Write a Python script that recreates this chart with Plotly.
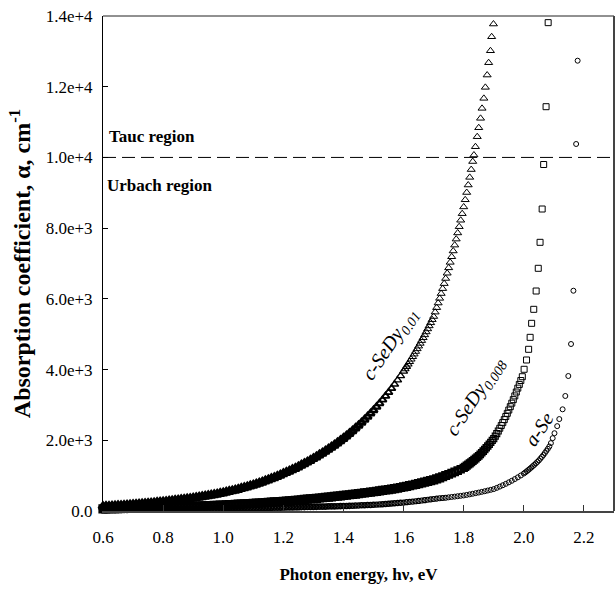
import plotly.graph_objects as go

# ---------------- data ----------------
# c-SeDy0.01 (triangles)
energy_dy01 = [
    0.60, 0.61, 0.62, 0.63, 0.64, 0.65, 0.66, 0.67, 0.68, 0.69,
    0.70, 0.71, 0.72, 0.73, 0.74, 0.75, 0.76, 0.77, 0.78, 0.79,
    0.80, 0.81, 0.82, 0.83, 0.84, 0.85, 0.86, 0.87, 0.88, 0.89,
    0.90, 0.91, 0.92, 0.93, 0.94, 0.95, 0.96, 0.97, 0.98, 0.99,
    1.00, 1.01, 1.02, 1.03, 1.04, 1.05, 1.06, 1.07, 1.08, 1.09,
    1.10, 1.11, 1.12, 1.13, 1.14, 1.15, 1.16, 1.17, 1.18, 1.19,
    1.20, 1.21, 1.22, 1.23, 1.24, 1.25, 1.26, 1.27, 1.28, 1.29,
    1.30, 1.31, 1.32, 1.33, 1.34, 1.35, 1.36, 1.37, 1.38, 1.39,
    1.40, 1.41, 1.42, 1.43, 1.44, 1.45, 1.46, 1.47, 1.48, 1.49,
    1.50, 1.51, 1.52, 1.53, 1.54, 1.55, 1.56, 1.57, 1.58, 1.59,
    1.60, 1.605, 1.610, 1.615, 1.620, 1.625, 1.630, 1.635, 1.640, 1.645,
    1.650, 1.655, 1.660, 1.665, 1.670, 1.675, 1.680, 1.685, 1.690, 1.695,
    1.700, 1.705, 1.710, 1.715, 1.720, 1.725, 1.730, 1.735, 1.740, 1.745,
    1.750, 1.755, 1.760, 1.765, 1.770, 1.775, 1.780, 1.785, 1.790, 1.795,
    1.800, 1.805, 1.810, 1.815, 1.820, 1.825, 1.830,
    1.834, 1.839, 1.845, 1.850, 1.856, 1.861, 1.867, 1.872, 1.878, 1.883,
    1.889, 1.893, 1.899,
]
alpha_dy01 = [
    120, 125, 129, 134, 139, 145, 150, 156, 162, 168,
    175, 182, 189, 196, 203, 211, 219, 228, 236, 245,
    255, 264, 273, 283, 293, 303, 314, 325, 336, 348,
    360, 373, 386, 399, 413, 428, 443, 459, 475, 492,
    510, 529, 548, 568, 588, 610, 632, 655, 679, 704,
    730, 757, 785, 814, 844, 875, 908, 941, 976, 1012,
    1050, 1087, 1125, 1164, 1204, 1246, 1290, 1335, 1381, 1430,
    1480, 1529, 1580, 1632, 1686, 1742, 1800, 1859, 1921, 1984,
    2050, 2119, 2190, 2263, 2339, 2417, 2498, 2582, 2668, 2758,
    2850, 2945, 3042, 3143, 3248, 3356, 3467, 3582, 3701, 3824,
    3950, 4016, 4083, 4151, 4221, 4291, 4363, 4436, 4510, 4585,
    4662, 4740, 4819, 4899, 4981, 5064, 5149, 5235, 5322, 5411,
    5500, 5624, 5751, 5881, 6014, 6150, 6289, 6431, 6576, 6725,
    6877, 7032, 7191, 7354, 7520, 7690, 7864, 8041, 8223, 8409,
    8600, 8802, 9008, 9220, 9436, 9657, 9884,
    10068, 10303, 10586, 10840, 11106, 11388, 11671, 11982, 12330, 12679,
    13017, 13413, 13773,
]

# c-SeDy0.008 (squares)
energy_dy008 = [
    0.60, 0.61, 0.62, 0.63, 0.64, 0.65, 0.66, 0.67, 0.68, 0.69,
    0.70, 0.71, 0.72, 0.73, 0.74, 0.75, 0.76, 0.77, 0.78, 0.79,
    0.80, 0.81, 0.82, 0.83, 0.84, 0.85, 0.86, 0.87, 0.88, 0.89,
    0.90, 0.91, 0.92, 0.93, 0.94, 0.95, 0.96, 0.97, 0.98, 0.99,
    1.00, 1.01, 1.02, 1.03, 1.04, 1.05, 1.06, 1.07, 1.08, 1.09,
    1.10, 1.11, 1.12, 1.13, 1.14, 1.15, 1.16, 1.17, 1.18, 1.19,
    1.20, 1.21, 1.22, 1.23, 1.24, 1.25, 1.26, 1.27, 1.28, 1.29,
    1.30, 1.31, 1.32, 1.33, 1.34, 1.35, 1.36, 1.37, 1.38, 1.39,
    1.40, 1.41, 1.42, 1.43, 1.44, 1.45, 1.46, 1.47, 1.48, 1.49,
    1.50, 1.51, 1.52, 1.53, 1.54, 1.55, 1.56, 1.57, 1.58, 1.59,
    1.60, 1.61, 1.62, 1.63, 1.64, 1.65, 1.66, 1.67, 1.68, 1.69,
    1.70, 1.71, 1.72, 1.73, 1.74, 1.75, 1.76, 1.77, 1.78, 1.79,
    1.80, 1.805, 1.810, 1.815, 1.820, 1.825, 1.830, 1.835, 1.840, 1.845,
    1.850, 1.855, 1.860, 1.865, 1.870, 1.875, 1.880, 1.885, 1.890, 1.895,
    1.900, 1.905, 1.910, 1.915, 1.920, 1.925, 1.930, 1.935, 1.940, 1.945,
    1.950, 1.955, 1.960, 1.965, 1.970, 1.975, 1.980, 1.985, 1.990, 1.995,
    2.001, 2.009, 2.016, 2.021, 2.026, 2.033, 2.041, 2.048, 2.054, 2.061,
    2.066, 2.074, 2.081,
]
alpha_dy008 = [
    60, 62, 64, 65, 67, 69, 71, 73, 75, 78,
    80, 82, 85, 87, 90, 92, 95, 98, 100, 103,
    105, 108, 111, 114, 117, 120, 123, 126, 129, 132,
    135, 138, 142, 145, 149, 152, 156, 159, 163, 166,
    170, 174, 178, 183, 187, 192, 196, 201, 205, 210,
    215, 220, 226, 231, 237, 243, 249, 256, 262, 268,
    275, 282, 289, 296, 303, 311, 318, 326, 334, 342,
    350, 358, 367, 375, 384, 393, 402, 411, 421, 430,
    440, 450, 460, 470, 480, 491, 502, 512, 523, 534,
    545, 557, 569, 581, 594, 607, 620, 634, 649, 664,
    680, 698, 716, 735, 754, 773, 794, 814, 836, 858,
    880, 909, 939, 970, 1003, 1036, 1070, 1106, 1142, 1180,
    1220, 1250, 1282, 1314, 1346, 1380, 1414, 1449, 1485, 1522,
    1560, 1603, 1648, 1693, 1740, 1788, 1838, 1889, 1941, 1995,
    2050, 2119, 2190, 2264, 2340, 2419, 2500, 2585, 2672, 2762,
    2855, 2951, 3050, 3150, 3255, 3365, 3475, 3580, 3690, 3798,
    4008, 4271, 4573, 4912, 5308, 5704, 6222, 6864, 7599, 8541,
    9800, 11435, 13812,
]

# a-Se (circles)
energy_ase = [
    0.60, 0.61, 0.62, 0.63, 0.64, 0.65, 0.66, 0.67, 0.68, 0.69,
    0.70, 0.71, 0.72, 0.73, 0.74, 0.75, 0.76, 0.77, 0.78, 0.79,
    0.80, 0.81, 0.82, 0.83, 0.84, 0.85, 0.86, 0.87, 0.88, 0.89,
    0.90, 0.91, 0.92, 0.93, 0.94, 0.95, 0.96, 0.97, 0.98, 0.99,
    1.00, 1.01, 1.02, 1.03, 1.04, 1.05, 1.06, 1.07, 1.08, 1.09,
    1.10, 1.11, 1.12, 1.13, 1.14, 1.15, 1.16, 1.17, 1.18, 1.19,
    1.20, 1.21, 1.22, 1.23, 1.24, 1.25, 1.26, 1.27, 1.28, 1.29,
    1.30, 1.31, 1.32, 1.33, 1.34, 1.35, 1.36, 1.37, 1.38, 1.39,
    1.40, 1.41, 1.42, 1.43, 1.44, 1.45, 1.46, 1.47, 1.48, 1.49,
    1.50, 1.51, 1.52, 1.53, 1.54, 1.55, 1.56, 1.57, 1.58, 1.59,
    1.60, 1.61, 1.62, 1.63, 1.64, 1.65, 1.66, 1.67, 1.68, 1.69,
    1.70, 1.71, 1.72, 1.73, 1.74, 1.75, 1.76, 1.77, 1.78, 1.79,
    1.80, 1.81, 1.82, 1.83, 1.84, 1.85, 1.86, 1.87, 1.88, 1.89,
    1.90, 1.91, 1.92, 1.93, 1.94, 1.95, 1.96, 1.97, 1.98, 1.99,
    2.00, 2.005, 2.010, 2.015, 2.020, 2.025, 2.030, 2.035, 2.040, 2.045,
    2.050, 2.055, 2.060, 2.065, 2.070, 2.075, 2.080, 2.085, 2.090,
    2.096, 2.102, 2.111, 2.118, 2.129, 2.138, 2.148, 2.157, 2.165, 2.174,
    2.179,
]
alpha_ase = [
    30, 31, 32, 32, 33, 34, 35, 35, 36, 37,
    38, 39, 40, 41, 42, 42, 43, 44, 45, 46,
    47, 48, 49, 50, 51, 52, 53, 54, 56, 57,
    58, 59, 60, 61, 63, 64, 65, 66, 68, 69,
    70, 71, 73, 74, 76, 77, 78, 80, 81, 83,
    84, 86, 87, 89, 90, 92, 94, 95, 97, 98,
    100, 102, 103, 105, 107, 109, 111, 113, 114, 116,
    118, 120, 122, 124, 126, 129, 131, 133, 135, 138,
    140, 143, 146, 150, 153, 157, 160, 164, 167, 171,
    175, 181, 187, 193, 199, 205, 212, 219, 226, 233,
    240, 248, 257, 266, 276, 286, 296, 306, 317, 328,
    340, 349, 358, 367, 377, 387, 397, 407, 418, 429,
    440, 455, 471, 488, 505, 522, 541, 559, 579, 599,
    620, 654, 690, 728, 768, 811, 855, 903, 952, 1005,
    1060, 1092, 1125, 1160, 1195, 1231, 1269, 1307, 1347, 1388,
    1430, 1480, 1530, 1583, 1640, 1700, 1760, 1825, 1920,
    2060, 2200, 2400, 2600, 2876, 3253, 3818, 4723, 6230, 10380,
    12736,
]

x_ticks = [0.6, 0.8, 1.0, 1.2, 1.4, 1.6, 1.8, 2.0, 2.2]
x_tick_text = ["0.6", "0.8", "1.0", "1.2", "1.4", "1.6", "1.8", "2.0", "2.2"]
y_ticks = [0, 2000, 4000, 6000, 8000, 10000, 12000, 14000]
y_tick_text = ["0.0", "2.0e+3", "4.0e+3", "6.0e+3", "8.0e+3", "1.0e+4", "1.2e+4", "1.4e+4"]
boundary_alpha = 10000

FONT = "Liberation Serif"


def outline_widths(energies, dense_until, fade_until, thick):
    """Heavier outlines where the measured points are packed tightly (style only)."""
    widths = []
    for e in energies:
        if e <= dense_until:
            widths.append(thick)
        elif e <= fade_until:
            f = (e - dense_until) / (fade_until - dense_until)
            widths.append(thick - (thick - 1.0) * f)
        else:
            widths.append(1.0)
    return widths


fig = go.Figure()

fig.add_trace(go.Scatter(
    x=energy_ase, y=alpha_ase, mode="markers", name="a-Se", cliponaxis=False,
    marker=dict(symbol="circle-open", size=5, color="black",
                line=dict(width=outline_widths(energy_ase, 1.3, 1.75, 1.8), color="black")),
))
fig.add_trace(go.Scatter(
    x=energy_dy008, y=alpha_dy008, mode="markers", name="c-SeDy0.008", cliponaxis=False,
    marker=dict(symbol="square-open", size=6, color="black",
                line=dict(width=outline_widths(energy_dy008, 1.72, 1.92, 3.2), color="black")),
))
fig.add_trace(go.Scatter(
    x=energy_dy01, y=alpha_dy01, mode="markers", name="c-SeDy0.01", cliponaxis=False,
    marker=dict(symbol="triangle-up-open", size=7, color="black",
                line=dict(width=outline_widths(energy_dy01, 1.4, 1.62, 3.4), color="black")),
))

# dashed boundary between Urbach and Tauc regions
fig.add_shape(type="line", xref="paper", x0=0, x1=1, yref="y", y0=boundary_alpha, y1=boundary_alpha,
              line=dict(color="black", width=1, dash="13px,6px"))
# frame (top and right)
fig.add_shape(type="line", xref="paper", yref="paper", x0=0, x1=1, y0=1, y1=1,
              line=dict(color="#222222", width=1))
fig.add_shape(type="line", xref="paper", yref="paper", x0=1, x1=1, y0=0, y1=1,
              line=dict(color="#444444", width=2))

fig.add_annotation(text="<b>Tauc region</b>", xref="paper", x=0.008, xanchor="left",
                   yref="y", y=10600, yanchor="middle", showarrow=False,
                   font=dict(family=FONT, size=17, color="black"))
fig.add_annotation(text="<b>Urbach region</b>", xref="paper", x=0.004, xanchor="left",
                   yref="y", y=9220, yanchor="middle", showarrow=False,
                   font=dict(family=FONT, size=17, color="black"))

fig.add_annotation(text="<i>c-SeDy<sub>0.01</sub></i>", x=1.555, y=4720, textangle=-56,
                   showarrow=False, xanchor="center", yanchor="middle",
                   font=dict(family=FONT, size=20, color="black"))
fig.add_annotation(text="<i>c-SeDy<sub>0.008</sub></i>", x=1.840, y=3230, textangle=-57,
                   showarrow=False, xanchor="center", yanchor="middle",
                   font=dict(family=FONT, size=20, color="black"))
fig.add_annotation(text="<i>a-Se</i>", x=2.050, y=2320, textangle=-56,
                   showarrow=False, xanchor="center", yanchor="middle",
                   font=dict(family=FONT, size=20, color="black"))

fig.update_layout(
    width=616, height=596,
    margin=dict(l=103, r=2, t=16, b=85),
    paper_bgcolor="white", plot_bgcolor="white",
    showlegend=False,
    font=dict(family=FONT, color="black"),
    xaxis=dict(
        range=[0.6, 2.3], tickvals=x_ticks, ticktext=x_tick_text,
        ticks="inside", ticklen=6, tickwidth=1, tickcolor="#333333",
        showline=True, linecolor="#444444", linewidth=2,
        showgrid=False, zeroline=False,
        tickfont=dict(family=FONT, size=17, color="black"),
        ticklabelstandoff=10,
        title=dict(text="<b>Photon energy, hν, eV</b>", standoff=22,
                   font=dict(family=FONT, size=17, color="black")),
    ),
    yaxis=dict(
        range=[0, 14000], tickvals=y_ticks, ticktext=y_tick_text,
        ticks="inside", ticklen=5, tickwidth=1, tickcolor="black",
        showline=True, linecolor="black", linewidth=1,
        showgrid=False, zeroline=False,
        tickfont=dict(family=FONT, size=17, color="black"),
        ticklabelstandoff=6,
        title=dict(text="<b>Absorption coefficient, α, cm<sup>-1</sup></b>", standoff=8,
                   font=dict(family=FONT, size=24, color="black")),
    ),
)

fig.write_html("out.html")
